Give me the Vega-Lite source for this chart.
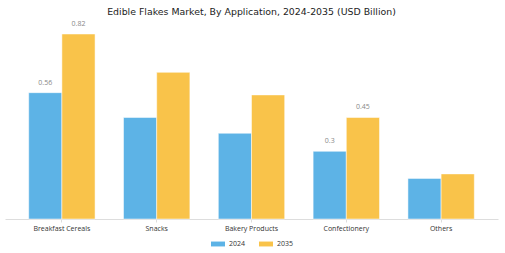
{
  "$schema": "https://vega.github.io/schema/vega-lite/v6.json",
  "width": 493,
  "height": 185,
  "autosize": "none",
  "padding": {"left": 5, "top": 34, "right": 7, "bottom": 34},
  "background": "white",
  "config": {"view": {"stroke": null}},
  "title": {
    "text": "Edible Flakes Market, By Application, 2024-2035 (USD Billion)",
    "font": "DejaVu Sans",
    "fontSize": 9.4,
    "fontWeight": "normal",
    "color": "#222222",
    "anchor": "middle",
    "offset": 3
  },
  "data": {
    "values": [
      {"application": "Breakfast Cereals", "year": "2024", "value": 0.56, "label": "0.56"},
      {"application": "Breakfast Cereals", "year": "2035", "value": 0.82, "label": "0.82"},
      {"application": "Snacks", "year": "2024", "value": 0.45, "label": ""},
      {"application": "Snacks", "year": "2035", "value": 0.65, "label": ""},
      {"application": "Bakery Products", "year": "2024", "value": 0.38, "label": ""},
      {"application": "Bakery Products", "year": "2035", "value": 0.55, "label": ""},
      {"application": "Confectionery", "year": "2024", "value": 0.3, "label": "0.3"},
      {"application": "Confectionery", "year": "2035", "value": 0.45, "label": "0.45"},
      {"application": "Others", "year": "2024", "value": 0.18, "label": ""},
      {"application": "Others", "year": "2035", "value": 0.2, "label": ""}
    ]
  },
  "encoding": {
    "x": {
      "field": "application",
      "type": "nominal",
      "sort": null,
      "scale": {"paddingInner": 0.3, "paddingOuter": 0.25},
      "axis": {
        "title": null,
        "labelAngle": 0,
        "labelFont": "Open Sans",
        "labelFontSize": 7,
        "labelColor": "#333333",
        "labelPadding": 2,
        "domainColor": "#dddddd",
        "tickColor": "#dddddd",
        "tickSize": 3
      }
    },
    "xOffset": {"field": "year", "type": "nominal"},
    "y": {
      "field": "value",
      "type": "quantitative",
      "scale": {"domain": [0, 0.82], "nice": false},
      "axis": null
    }
  },
  "layer": [
    {
      "mark": {"type": "bar", "stroke": "white", "strokeWidth": 0.5},
      "encoding": {
        "color": {
          "field": "year",
          "type": "nominal",
          "scale": {"domain": ["2024", "2035"], "range": ["#5DB3E6", "#F9C34A"]},
          "legend": {
            "orient": "none",
            "legendX": 206,
            "legendY": 203,
            "direction": "horizontal",
            "title": null,
            "symbolType": "M-1,-0.35L1,-0.35L1,0.35L-1,0.35Z",
            "symbolSize": 196,
            "symbolStrokeWidth": 0,
            "labelFont": "Open Sans",
            "labelFontSize": 7,
            "labelColor": "#333333",
            "columnPadding": 13
          }
        }
      }
    },
    {
      "mark": {"type": "text", "baseline": "middle", "dy": -10, "font": "Open Sans", "fontSize": 7, "color": "#888888"},
      "encoding": {"text": {"field": "label"}}
    }
  ]
}
